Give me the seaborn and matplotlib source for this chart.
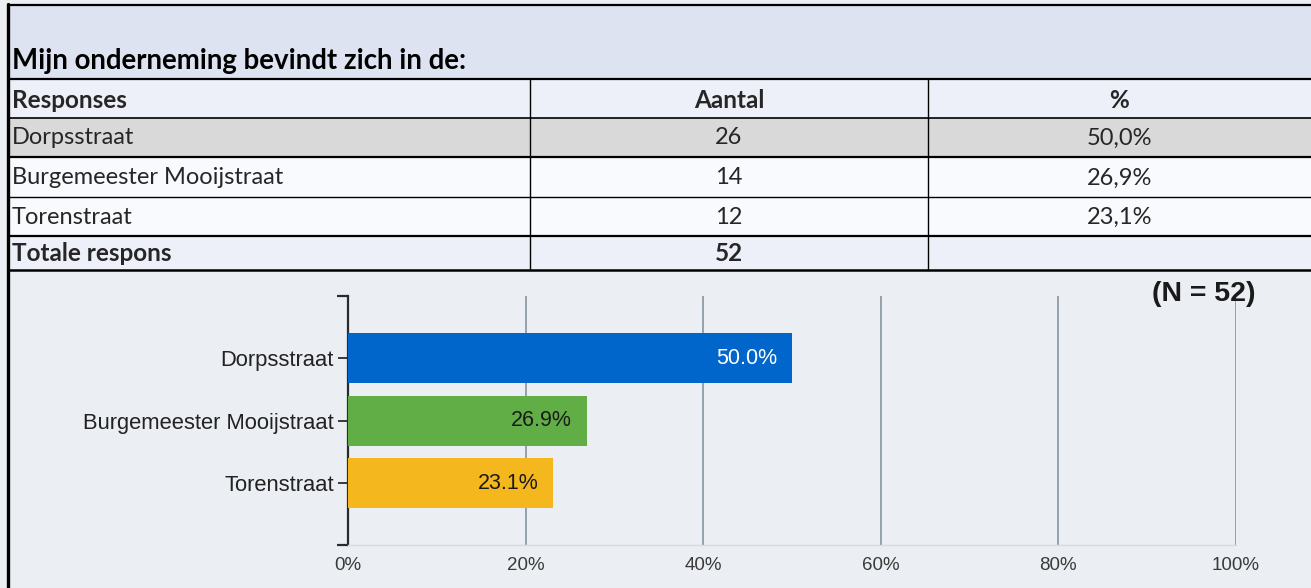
import matplotlib
matplotlib.use("Agg")
import matplotlib.pyplot as plt
import seaborn as sns
import pandas as pd
from matplotlib.patches import Rectangle
from matplotlib.lines import Line2D

# ---------------- data ----------------
title = "Mijn onderneming bevindt zich in de:"
categories = ["Dorpsstraat", "Burgemeester Mooijstraat", "Torenstraat"]
counts = [26, 14, 12]
pct_table = ["50,0%", "26,9%", "23,1%"]
pct_values = [50.0, 26.9, 23.1]
total_label = "Totale respons"
total_count = 52
header = ["Responses", "Aantal", "%"]
xtick_values = [0, 20, 40, 60, 80, 100]
xtick_labels = ["0%", "20%", "40%", "60%", "80%", "100%"]
n_label = "(N = 52)"
bar_colors = ["#0066cc", "#62ae46", "#f4b81e"]
label_colors = ["white", "#1a1a1a", "#1a1a1a"]

W, H = 1311, 588
sns.set_theme(style="white")
plt.rcParams["font.family"] = ["Liberation Sans", "DejaVu Sans"]

fig = plt.figure(figsize=(W / 100, H / 100), dpi=100)
fig.patch.set_facecolor("#ebeef2")


def fx(x):
    return x / W


def fy(y):
    return 1 - y / H


def rect(x0, y0, x1, y1, color):
    fig.add_artist(Rectangle((fx(x0), fy(y1)), fx(x1) - fx(x0), fy(y0) - fy(y1),
                             transform=fig.transFigure, facecolor=color,
                             edgecolor="none", zorder=0))


def hline(y, x0, x1, lw):
    fig.add_artist(Line2D([fx(x0), fx(x1)], [fy(y), fy(y)], transform=fig.transFigure,
                          color="black", lw=lw, zorder=5))


def vline(x, y0, y1, lw):
    fig.add_artist(Line2D([fx(x), fx(x)], [fy(y0), fy(y1)], transform=fig.transFigure,
                          color="black", lw=lw, zorder=5))


# ---------------- table ----------------
L, R = 8, W
col1, col2 = 530, 928
rect(L, 5, R, 79, "#dde3f0")           # title band
rect(L, 79, R, 118, "#eef0f9")         # header
rect(L, 118, R, 157, "#d9d9d9")        # first row (highlighted)
rect(L, 157, R, 236, "#f8fafd")        # other rows
rect(L, 236, R, 270, "#eef0f9")        # total row

hline(5, L, R, 1.6)
hline(79, L, R, 1.6)
hline(118, L, R, 1.2)
hline(157, L, R, 1.6)
hline(197, L, R, 1.0)
hline(236, L, R, 1.6)
hline(270, L, R, 1.8)
vline(L, 4, H, 2.4)
vline(col1, 79, 270, 1.0)
vline(col2, 79, 270, 1.0)

tfont = ["Lato", "DejaVu Sans"]
fs_row = 17
fs_bold = 17.5
fig.text(fx(12), fy(61), title, fontsize=19.9, fontweight="bold", family=tfont,
         va="center", ha="left", color="black")
hy = 100
fig.text(fx(12), fy(hy), header[0], fontsize=fs_bold, fontweight="bold", family=tfont, va="center")
fig.text(fx((col1 + col2) / 2), fy(hy), header[1], fontsize=fs_bold, fontweight="bold",
         family=tfont, va="center", ha="center")
fig.text(fx((col2 + R) / 2), fy(hy), header[2], fontsize=fs_bold, fontweight="bold",
         family=tfont, va="center", ha="center")
row_centers = [138, 178, 217]
for yc, cat, c, p in zip(row_centers, categories, counts, pct_table):
    fig.text(fx(12), fy(yc), cat, fontsize=fs_row, family=tfont, va="center")
    fig.text(fx((col1 + col2) / 2), fy(yc), str(c), fontsize=fs_row, family=tfont,
             va="center", ha="center")
    fig.text(fx((col2 + R) / 2), fy(yc), p, fontsize=fs_row, family=tfont,
             va="center", ha="center")
fig.text(fx(12), fy(254), total_label, fontsize=fs_bold, fontweight="bold", family=tfont, va="center")
fig.text(fx((col1 + col2) / 2), fy(254), str(total_count), fontsize=fs_bold, fontweight="bold",
         family=tfont, va="center", ha="center")

# ---------------- chart ----------------
ax_l, ax_r, ax_t, ax_b = 348, 1236, 296, 545
ax = fig.add_axes([fx(ax_l), fy(ax_b), fx(ax_r) - fx(ax_l), fy(ax_t) - fy(ax_b)])
ax.set_facecolor("#ebeef2")

df = pd.DataFrame({"cat": categories, "pct": pct_values})
sns.barplot(data=df, x="pct", y="cat", hue="cat", palette=bar_colors, legend=False,
            saturation=1, width=0.8, ax=ax, zorder=3, linewidth=0)

ax.set_xlim(0, 100)
ax.set_ylim(len(categories) - 0.01, -1)
ax.set_xticks(xtick_values)
ax.set_xticklabels(xtick_labels)
ax.set_xlabel("")
ax.set_ylabel("")
ax.grid(False)
for v in xtick_values[1:]:
    ax.axvline(v, color="#8d9ca6", lw=1.3, zorder=1)

for s in ["top", "right"]:
    ax.spines[s].set_visible(False)
ax.spines["bottom"].set_color("#d6dce6")
ax.spines["bottom"].set_linewidth(1.0)
ax.spines["left"].set_color("#2b2b2b")
ax.spines["left"].set_linewidth(1.6)

ax.tick_params(axis="x", length=0, pad=9, labelsize=13.5, labelcolor="#3a3a3a")
ax.tick_params(axis="y", which="major", left=True, length=7, width=1.3, color="#2b2b2b",
               pad=3, labelsize=15.8, labelcolor="#222222")
ax.set_yticks([-1, len(categories) - 0.01], minor=True)
ax.tick_params(axis="y", which="minor", left=True, length=8, width=1.6, color="#2b2b2b")

for i, (v, col) in enumerate(zip(pct_values, label_colors)):
    ax.annotate(f"{v:.1f}%", xy=(v, i), xytext=(-15, 0), textcoords="offset pixels",
                ha="right", va="center", fontsize=15.5, color=col, zorder=4)

fig.text(fx(1255), fy(294), n_label, fontsize=20.5, fontweight="bold", ha="right",
         va="center", color="#1a1a1a", zorder=6)

fig.savefig("out.png", dpi=100, facecolor=fig.get_facecolor())
